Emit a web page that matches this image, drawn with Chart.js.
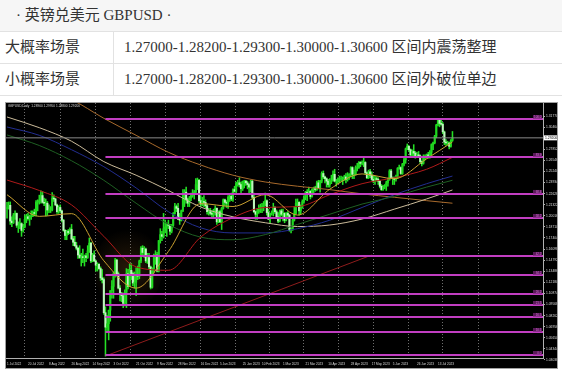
<!DOCTYPE html>
<html><head><meta charset="utf-8">
<script src="https://cdn.jsdelivr.net/npm/chart.js@4/dist/chart.umd.min.js"></script>
<style>
html,body{margin:0;padding:0;background:#fff;}
body{width:562px;height:370px;position:relative;overflow:hidden;font-family:'Liberation Serif','Noto Sans CJK SC',serif;color:#333;font-size:15px;}
.row{position:absolute;left:0;width:562px;height:31px;line-height:31px;border-bottom:1px solid #e2e2e2;white-space:nowrap;}
.title{top:0;background:#f6f6f6;padding-left:16px;box-sizing:border-box;height:32px;}
.r1{top:32px;background:#fff;}
.r2{top:64px;background:#fff;}
.c1{position:absolute;left:0;top:0;width:113px;height:31px;padding-left:5px;box-sizing:border-box;}
.c2{position:absolute;left:113px;top:0;width:449px;height:31px;border-left:1px solid #e2e2e2;padding-left:10px;box-sizing:border-box;}
#frame{position:absolute;left:5px;top:102px;width:553px;height:267px;border:1px solid #a0a0a0;box-sizing:border-box;background:#000;}
#c{display:block;}
</style></head>
<body>
<div class="row title">· 英镑兑美元 GBPUSD ·</div>
<div class="row r1"><div class="c1">大概率场景</div><div class="c2">1.27000-1.28200-1.29300-1.30000-1.30600 区间内震荡整理</div></div>
<div class="row r2"><div class="c1">小概率场景</div><div class="c2">1.27000-1.28200-1.29300-1.30000-1.30600 区间外破位单边</div></div>
<div id="frame"><canvas id="c" width="551" height="265"></canvas></div>
<script>
// ---------- data ----------
const SYMBOL = 'GBPUSD,Daily';
const DATE_LABELS = ['1 Jul 2022','20 Jul 2022','8 Aug 2022','26 Aug 2022','14 Sep 2022','3 Oct 2022','21 Oct 2022','9 Nov 2022','28 Nov 2022','16 Dec 2022','5 Jan 2023','25 Jan 2023','10 Feb 2023','1 Mar 2023','21 Mar 2023','10 Apr 2023','28 Apr 2023','17 May 2023','5 Jun 2023','26 Jun 2023','13 Jul 2023'];
const DATE_IDX = [0,13,26,40,53,66,80,93,106,120,132,146,158,171,185,199,213,226,239,254,267];
const GRID_IDX = [22,44,66,87,109,131,152,173,195,216,238,259,281];
const Y_TICKS = [1.31770,1.30464,1.29158,1.27852,1.26546,1.25240,1.23934,1.22628,1.21322,1.20016,1.18710,1.17404,1.16098,1.14792,1.13486,1.12180,1.10874,1.09568,1.08262,1.06956,1.05650,1.04344,1.03038];

const OPEN = [
1.2090,1.2095,1.2125,1.1940,1.1920,1.2010,1.2030,1.1890,1.1890,1.1910,
1.1830,1.1870,1.1960,1.1990,1.1970,1.1990,1.2000,1.2040,1.2030,1.2160,
1.2170,1.2180,1.2240,1.2160,1.2150,1.2150,1.2070,1.2070,1.2070,1.2210,
1.2200,1.2130,1.2050,1.2100,1.2060,1.1950,1.1830,1.1770,1.1820,1.1800,
1.1840,1.1730,1.1690,1.1650,1.1620,1.1540,1.1510,1.1520,1.1510,1.1530,
1.1510,1.1590,1.1680,1.1470,1.1540,1.1470,1.1420,1.1430,1.1380,1.1270,
1.1250,1.0860,1.0690,1.0730,1.0890,1.1120,1.1170,1.1320,1.1480,1.1320,
1.1150,1.1090,1.1060,1.0970,1.1100,1.1320,1.1170,1.1360,1.1320,1.1210,
1.1220,1.1310,1.1290,1.1470,1.1620,1.1570,1.1610,1.1470,1.1510,1.1400,
1.1160,1.1380,1.1510,1.1540,1.1350,1.1710,1.1780,1.1760,1.1850,1.1870,
1.1900,1.1890,1.1820,1.1890,1.2030,1.2110,1.2090,1.1960,1.1950,1.2060,
1.2260,1.2280,1.2190,1.2150,1.2210,1.2240,1.2270,1.2280,1.2370,1.2420,
1.2180,1.2140,1.2170,1.2160,1.2120,1.2050,1.2050,1.2030,1.2020,1.2070,
1.2090,1.1930,1.2050,1.1930,1.2090,1.2190,1.2160,1.2150,1.2220,1.2230,
1.2200,1.2310,1.2290,1.2390,1.2390,1.2370,1.2320,1.2410,1.2410,1.2390,
1.2370,1.2340,1.2410,1.2220,1.2050,1.2020,1.2050,1.2060,1.2110,1.2110,
1.2140,1.2180,1.2040,1.1960,1.2030,1.2040,1.2100,1.2050,1.1990,1.1940,
1.2060,1.2020,1.2030,1.1950,1.2030,1.2010,1.1830,1.1840,1.1950,1.2030,
1.2150,1.2160,1.2060,1.2100,1.2170,1.2220,1.2280,1.2270,1.2290,1.2230,
1.2310,1.2330,1.2310,1.2390,1.2330,1.2410,1.2500,1.2460,1.2440,1.2410,
1.2370,1.2410,1.2420,1.2490,1.2410,1.2410,1.2430,1.2440,1.2440,1.2440,
1.2460,1.2430,1.2470,1.2490,1.2570,1.2490,1.2490,1.2570,1.2570,1.2630,
1.2620,1.2620,1.2630,1.2510,1.2450,1.2520,1.2480,1.2430,1.2410,1.2440,
1.2430,1.2410,1.2350,1.2310,1.2340,1.2350,1.2390,1.2430,1.2530,1.2450,
1.2440,1.2430,1.2450,1.2560,1.2570,1.2500,1.2610,1.2660,1.2790,1.2820,
1.2780,1.2720,1.2760,1.2740,1.2710,1.2720,1.2710,1.2640,1.2620,1.2700,
1.2690,1.2720,1.2710,1.2750,1.2840,1.2860,1.2940,1.3070,1.3130,1.3090,
1.3080,1.2990,1.2870,1.2860,1.2860,1.2820,1.2890];
const HIGH = [
1.2160,1.2165,1.2165,1.1990,1.2030,1.2060,1.2035,1.1930,1.1970,1.1920,
1.1900,1.2010,1.2020,1.2030,1.2010,1.2060,1.2060,1.2080,1.2180,1.2190,
1.2245,1.2295,1.2290,1.2210,1.2200,1.2170,1.2130,1.2110,1.2275,1.2250,
1.2210,1.2140,1.2120,1.2130,1.2070,1.1960,1.1840,1.1830,1.1840,1.1860,
1.1900,1.1760,1.1760,1.1690,1.1630,1.1650,1.1560,1.1610,1.1540,1.1560,
1.1650,1.1740,1.1690,1.1560,1.1590,1.1480,1.1450,1.1440,1.1400,1.1370,
1.1270,1.0930,1.0830,1.0890,1.1120,1.1240,1.1340,1.1500,1.1490,1.1340,
1.1180,1.1100,1.1090,1.1130,1.1380,1.1370,1.1440,1.1440,1.1340,1.1340,
1.1390,1.1410,1.1480,1.1640,1.1650,1.1640,1.1620,1.1560,1.1560,1.1410,
1.1390,1.1550,1.1590,1.1570,1.1710,1.1850,1.1820,1.2030,1.1950,1.1920,
1.1950,1.1900,1.1900,1.2040,1.2150,1.2130,1.2150,1.2030,1.2070,1.2310,
1.2310,1.2340,1.2210,1.2230,1.2270,1.2310,1.2300,1.2440,1.2446,1.2430,
1.2240,1.2220,1.2240,1.2190,1.2140,1.2090,1.2090,1.2060,1.2080,1.2120,
1.2095,1.2060,1.2070,1.2100,1.2200,1.2200,1.2180,1.2240,1.2250,1.2270,
1.2320,1.2350,1.2400,1.2420,1.2450,1.2400,1.2410,1.2420,1.2420,1.2410,
1.2380,1.2420,1.2420,1.2270,1.2060,1.2090,1.2130,1.2140,1.2150,1.2170,
1.2270,1.2190,1.2080,1.2030,1.2060,1.2150,1.2110,1.2070,1.2040,1.2070,
1.2080,1.2080,1.2040,1.2040,1.2050,1.2020,1.1860,1.1970,1.2110,1.2200,
1.2200,1.2170,1.2130,1.2190,1.2240,1.2290,1.2310,1.2340,1.2300,1.2320,
1.2340,1.2350,1.2410,1.2420,1.2420,1.2520,1.2530,1.2470,1.2450,1.2430,
1.2440,1.2480,1.2530,1.2550,1.2430,1.2450,1.2470,1.2470,1.2460,1.2480,
1.2500,1.2510,1.2500,1.2580,1.2580,1.2540,1.2590,1.2620,1.2640,1.2640,
1.2650,1.2680,1.2640,1.2520,1.2540,1.2550,1.2520,1.2480,1.2470,1.2460,
1.2450,1.2420,1.2370,1.2360,1.2370,1.2410,1.2440,1.2545,1.2550,1.2460,
1.2460,1.2480,1.2570,1.2600,1.2580,1.2620,1.2680,1.2800,1.2848,1.2830,
1.2790,1.2780,1.2840,1.2760,1.2750,1.2760,1.2720,1.2650,1.2720,1.2720,
1.2730,1.2750,1.2770,1.2850,1.2870,1.2950,1.3080,1.3140,1.3142,1.3125,
1.3100,1.3000,1.2900,1.2880,1.2870,1.2900,1.2995];
const LOW = [
1.1975,1.2080,1.1900,1.1875,1.1910,1.1960,1.1865,1.1805,1.1850,1.1760,
1.1810,1.1860,1.1920,1.1950,1.1890,1.1960,1.1990,1.2000,1.2000,1.2060,
1.2140,1.2150,1.2150,1.2120,1.2000,1.2005,1.2040,1.2040,1.2060,1.2170,
1.2120,1.2030,1.2030,1.2040,1.1930,1.1820,1.1720,1.1720,1.1780,1.1790,
1.1720,1.1650,1.1640,1.1600,1.1500,1.1500,1.1410,1.1450,1.1410,1.1460,
1.1500,1.1570,1.1450,1.1460,1.1460,1.1350,1.1350,1.1370,1.1240,1.1210,
1.0840,1.0350,1.0650,1.0540,1.0760,1.1030,1.1030,1.1280,1.1290,1.1140,
1.1000,1.0990,1.0920,1.0940,1.0920,1.1140,1.1170,1.1250,1.1180,1.1150,
1.1060,1.1250,1.1260,1.1450,1.1540,1.1510,1.1450,1.1440,1.1380,1.1140,
1.1150,1.1330,1.1430,1.1340,1.1340,1.1680,1.1710,1.1740,1.1800,1.1760,
1.1850,1.1780,1.1800,1.1870,1.2020,1.2050,1.1960,1.1900,1.1940,1.2050,
1.2110,1.2150,1.2110,1.2110,1.2180,1.2220,1.2200,1.2260,1.2310,1.2160,
1.2110,1.2120,1.2110,1.2090,1.2020,1.2010,1.2010,1.1990,1.1990,1.2010,
1.1900,1.1920,1.1920,1.1840,1.2080,1.2120,1.2100,1.2090,1.2170,1.2180,
1.2170,1.2280,1.2260,1.2350,1.2340,1.2260,1.2300,1.2330,1.2360,1.2320,
1.2260,1.2280,1.2200,1.2040,1.1960,1.1960,1.2030,1.2040,1.2040,1.2060,
1.2120,1.2010,1.1960,1.1920,1.2010,1.2000,1.2030,1.1980,1.1920,1.1930,
1.2000,1.1940,1.1920,1.1940,1.1980,1.1820,1.1800,1.1830,1.1940,1.2020,
1.2110,1.2010,1.2020,1.2090,1.2150,1.2190,1.2180,1.2250,1.2200,1.2220,
1.2270,1.2290,1.2300,1.2320,1.2280,1.2390,1.2440,1.2390,1.2340,1.2340,
1.2340,1.2380,1.2410,1.2400,1.2350,1.2380,1.2390,1.2410,1.2370,1.2420,
1.2390,1.2410,1.2430,1.2460,1.2440,1.2440,1.2480,1.2530,1.2560,1.2580,
1.2600,1.2580,1.2490,1.2440,1.2440,1.2450,1.2420,1.2390,1.2370,1.2410,
1.2370,1.2330,1.2300,1.2300,1.2320,1.2300,1.2350,1.2420,1.2440,1.2370,
1.2370,1.2410,1.2440,1.2550,1.2490,1.2490,1.2590,1.2620,1.2780,1.2760,
1.2700,1.2690,1.2690,1.2680,1.2700,1.2690,1.2620,1.2590,1.2610,1.2660,
1.2680,1.2680,1.2680,1.2720,1.2780,1.2850,1.2920,1.3060,1.3050,1.3070,
1.2970,1.2840,1.2830,1.2840,1.2790,1.2810,1.2880];
const CLOSE = [
1.2095,1.2125,1.1940,1.1920,1.2010,1.2030,1.1890,1.1890,1.1910,1.1830,
1.1870,1.1960,1.1990,1.1970,1.1990,1.2000,1.2040,1.2030,1.2160,1.2170,
1.2180,1.2240,1.2160,1.2150,1.2150,1.2070,1.2070,1.2070,1.2210,1.2200,
1.2130,1.2050,1.2100,1.2060,1.1950,1.1830,1.1770,1.1820,1.1800,1.1840,
1.1730,1.1690,1.1650,1.1620,1.1540,1.1510,1.1520,1.1510,1.1530,1.1510,
1.1590,1.1680,1.1470,1.1540,1.1470,1.1420,1.1430,1.1380,1.1270,1.1250,
1.0860,1.0690,1.0730,1.0890,1.1120,1.1170,1.1320,1.1480,1.1320,1.1150,
1.1090,1.1060,1.0970,1.1100,1.1320,1.1170,1.1360,1.1320,1.1210,1.1220,
1.1310,1.1290,1.1470,1.1620,1.1570,1.1610,1.1470,1.1510,1.1400,1.1160,
1.1380,1.1510,1.1540,1.1350,1.1710,1.1780,1.1760,1.1850,1.1870,1.1900,
1.1890,1.1820,1.1890,1.2030,1.2110,1.2090,1.1960,1.1950,1.2060,1.2260,
1.2280,1.2190,1.2150,1.2210,1.2240,1.2270,1.2280,1.2370,1.2420,1.2180,
1.2140,1.2170,1.2160,1.2120,1.2050,1.2050,1.2030,1.2020,1.2070,1.2090,
1.1930,1.2050,1.1930,1.2090,1.2190,1.2160,1.2150,1.2220,1.2230,1.2200,
1.2310,1.2290,1.2390,1.2390,1.2370,1.2320,1.2410,1.2410,1.2390,1.2370,
1.2340,1.2410,1.2220,1.2050,1.2020,1.2050,1.2060,1.2110,1.2110,1.2140,
1.2180,1.2040,1.1960,1.2030,1.2040,1.2100,1.2050,1.1990,1.1940,1.2060,
1.2020,1.2030,1.1950,1.2030,1.2010,1.1830,1.1840,1.1950,1.2030,1.2150,
1.2160,1.2060,1.2100,1.2170,1.2220,1.2280,1.2270,1.2290,1.2230,1.2310,
1.2330,1.2310,1.2390,1.2330,1.2410,1.2500,1.2460,1.2440,1.2410,1.2370,
1.2410,1.2420,1.2490,1.2410,1.2410,1.2430,1.2440,1.2440,1.2440,1.2460,
1.2430,1.2470,1.2490,1.2570,1.2490,1.2490,1.2570,1.2570,1.2630,1.2620,
1.2620,1.2630,1.2510,1.2450,1.2520,1.2480,1.2430,1.2410,1.2440,1.2430,
1.2410,1.2350,1.2310,1.2340,1.2350,1.2390,1.2430,1.2530,1.2450,1.2440,
1.2430,1.2450,1.2560,1.2570,1.2500,1.2610,1.2660,1.2790,1.2820,1.2780,
1.2720,1.2760,1.2740,1.2710,1.2720,1.2710,1.2640,1.2620,1.2700,1.2690,
1.2720,1.2710,1.2750,1.2840,1.2860,1.2940,1.3070,1.3130,1.3090,1.3080,
1.2990,1.2870,1.2860,1.2860,1.2820,1.2890,1.2920];

const MA_IDX    = [0,20,40,60,80,100,120,140,160,180,200,220,240,260,276];
const MA_FAST   = [1.2250,1.1995,1.2027,1.1472,1.1150,1.1582,1.2145,1.2111,1.2251,1.2010,1.2315,1.2495,1.2439,1.2673,1.2871];
const MA_RED    = [1.2423,1.2300,1.2130,1.1760,1.1400,1.1360,1.1750,1.1980,1.2100,1.2110,1.2250,1.2380,1.2450,1.2550,1.2690];
const MA_GREEN  = [1.2954,1.2830,1.2650,1.2420,1.2150,1.1900,1.1750,1.1720,1.1780,1.1900,1.2020,1.2140,1.2230,1.2340,1.2420];
const MA_BLUE   = [1.3048,1.2950,1.2780,1.2580,1.2330,1.2050,1.1860,1.1800,1.1800,1.1850,1.1950,1.2100,1.2250,1.2380,1.2470];
const MA_TAN    = [1.3166,1.3040,1.2880,1.2640,1.2480,1.2300,1.2105,1.1990,1.1920,1.1875,1.1893,1.1964,1.2080,1.2200,1.2306];
const MA_BROWN  = [1.3620,1.3500,1.3370,1.3150,1.2950,1.2750,1.2600,1.2480,1.2400,1.2350,1.2310,1.2260,1.2220,1.2180,1.2150];

const TREND_IDX = [61,226];
const TREND_VAL = [1.0350,1.1540];

const FIB_FROM = 61;
const FIB_LEVELS = [1.3142,1.2694,1.2259,1.1976,1.1528,1.1304,1.1081,1.0951,1.0810,1.0633,1.0362];
const FIB_TAGS   = ['100.0','83.9','68.4','58.2','42.2','34.2','26.2','21.5','16.5','10.1','0.0'];

// ---------- scales ----------
const X_MIN = -0.62, X_MAX = 332.1;
const Y_MIN = 1.03266, Y_MAX = 1.33305;

Chart.defaults.font.family = "'Liberation Sans', Arial, sans-serif";

const n = CLOSE.length;
const idx = CLOSE.map((_, i) => i);
const bodies = idx.map(i => ({x: i, y: [OPEN[i], CLOSE[i]]}));
const wicks  = idx.map(i => ({x: i, y: [LOW[i], HIGH[i]]}));
const bodyColors = idx.map(i => CLOSE[i] >= OPEN[i] ? '#1fd81f' : '#bff5bf');

function maSet(vals, color, width) {
  return {type: 'line', xAxisID: 'x', order: 2,
    data: MA_IDX.map((x, k) => ({x, y: vals[k]})),
    borderColor: color, borderWidth: width || 1, pointRadius: 0,
    cubicInterpolationMode: 'monotone', fill: false};
}

const datasets = [];
FIB_LEVELS.forEach(v => datasets.push({type: 'line', xAxisID: 'x', order: 0,
  data: [{x: FIB_FROM, y: v}, {x: X_MAX, y: v}],
  borderColor: '#c23ec2', borderWidth: 2, pointRadius: 0}));
datasets.push({type: 'line', xAxisID: 'x', order: 1,
  data: [{x: X_MIN, y: CLOSE[n-1]}, {x: X_MAX, y: CLOSE[n-1]}],
  borderColor: '#8a8a8a', borderWidth: 1, pointRadius: 0});
datasets.push(maSet(MA_FAST, '#caa030', 1));
datasets.push(maSet(MA_RED, '#b01a1a', 1));
datasets.push(maSet(MA_GREEN, '#1e5f22', 1));
datasets.push(maSet(MA_BLUE, '#222d90', 1));
datasets.push(maSet(MA_TAN, '#cbbb9a', 1));
datasets.push(maSet(MA_BROWN, '#a86a2c', 1));
datasets.push({type: 'bar', xAxisID: 'x', order: 3, grouped: false, data: bodies,
  backgroundColor: bodyColors, borderWidth: 0, barThickness: 1.4});
datasets.push({type: 'bar', xAxisID: 'x', order: 4, grouped: false, data: wicks,
  backgroundColor: '#25e025', borderWidth: 0, barThickness: 0.9});
datasets.push({type: 'line', xAxisID: 'x', order: 5,
  data: TREND_IDX.map((x, k) => ({x, y: TREND_VAL[k]})),
  borderColor: '#8e1c1c', borderWidth: 1, pointRadius: 0});

const overlay = {
  id: 'overlay',
  beforeDatasetsDraw(chart) {
    const {ctx, scales: {x, y}} = chart;
    const cx = x.getPixelForValue(75), cy = y.getPixelForValue(1.137);
    const g = ctx.createRadialGradient(cx, cy, 2, cx, cy, 40);
    g.addColorStop(0, 'rgba(120,80,25,0.30)');
    g.addColorStop(1, 'rgba(120,80,25,0)');
    ctx.save(); ctx.fillStyle = g;
    ctx.beginPath(); ctx.ellipse(cx, cy, 34, 42, 0, 0, Math.PI * 2); ctx.fill();
    ctx.restore();
  },
  afterDraw(chart) {
    const {ctx, chartArea: a, scales: {y}} = chart;
    ctx.save();
    // fib level tags at the right end of each line
    ctx.font = "3px 'Liberation Sans'";
    ctx.textBaseline = 'bottom';
    ctx.textAlign = 'right';
    FIB_LEVELS.forEach((v, k) => {
      const py = y.getPixelForValue(v);
      ctx.fillStyle = '#5a1a5a';
      ctx.fillRect(a.right - 10, py - 4, 9, 3.5);
      ctx.fillStyle = '#d070d0';
      ctx.fillText(FIB_TAGS[k], a.right - 1.5, py - 0.5);
    });
    ctx.textAlign = 'left';
    // current price box
    const last = CLOSE[n-1];
    const py = y.getPixelForValue(last);
    ctx.fillStyle = '#fff';
    ctx.fillRect(a.right + 1, py - 2.5, 13, 5);
    ctx.fillStyle = '#000';
    ctx.font = "3.4px 'Liberation Sans'";
    ctx.textBaseline = 'middle';
    ctx.fillText(last.toFixed(5), a.right + 2, py);
    // header text
    ctx.fillStyle = '#d8d8d8';
    ctx.textBaseline = 'top';
    ctx.font = "3.2px 'Liberation Sans'";
    const t1 = SYMBOL + '  ' + OPEN[n-1].toFixed(5) + ' ' + HIGH[n-1].toFixed(5) + ' ' + LOW[n-1].toFixed(5) + ' ' + CLOSE[n-1].toFixed(5);
    ctx.fillText(t1, a.left + 2, a.top + 2);
    ctx.restore();
  }
};

new Chart(document.getElementById('c'), {
  type: 'bar',
  data: {datasets},
  plugins: [overlay],
  options: {
    responsive: false, animation: false, devicePixelRatio: 1,
    layout: {padding: 0},
    events: [],
    plugins: {legend: {display: false}, tooltip: {enabled: false}},
    scales: {
      x: {type: 'linear', position: 'bottom', min: X_MIN, max: X_MAX, offset: false,
        grid: {display: false, drawTicks: false, offset: false},
        border: {display: true, color: '#b0b0b0', width: 1},
        ticks: {autoSkip: false, maxRotation: 0, minRotation: 0, align: 'start', padding: 4,
          color: '#dcdcdc', font: {size: 3.1}, callback: (v, i) => DATE_LABELS[i]},
        afterBuildTicks: s => { s.ticks = DATE_IDX.map(v => ({value: v})); },
        afterFit: s => { s.height = 10; s.paddingLeft = 0; s.paddingRight = 0; }
      },
      xg: {type: 'linear', position: 'bottom', min: X_MIN, max: X_MAX, offset: false,
        ticks: {display: false},
        grid: {display: true, drawOnChartArea: true, drawTicks: false, color: '#8c8c8c', lineWidth: 0.8},
        border: {display: false, dash: [1, 2]},
        afterBuildTicks: s => { s.ticks = GRID_IDX.map(v => ({value: v})); },
        afterFit: s => { s.height = 0; s.paddingLeft = 0; s.paddingRight = 0; }
      },
      y: {type: 'linear', position: 'right', min: Y_MIN, max: Y_MAX,
        grid: {display: true, drawOnChartArea: false, drawTicks: true, tickLength: 2, tickColor: '#b0b0b0'},
        border: {display: true, color: '#b0b0b0', width: 1},
        ticks: {autoSkip: false, padding: 1, color: '#dcdcdc', font: {size: 3.3},
          callback: v => Number(v).toFixed(5)},
        afterBuildTicks: s => { s.ticks = Y_TICKS.map(v => ({value: v})); },
        afterFit: s => { s.width = 14; s.paddingTop = 0; s.paddingBottom = 0; }
      }
    }
  }
});
</script>
</body></html>
